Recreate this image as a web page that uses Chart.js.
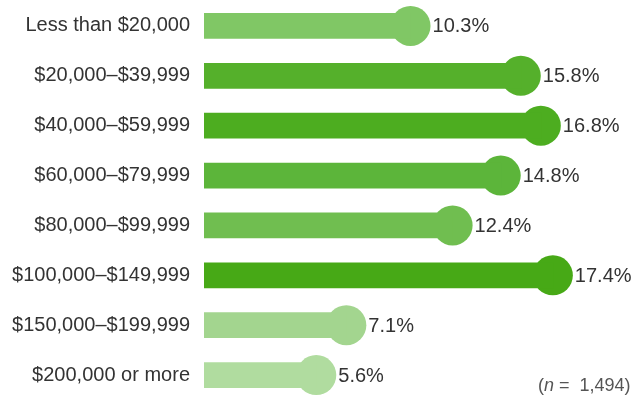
<!DOCTYPE html>
<html>
<head>
<meta charset="utf-8">
<script src="https://cdn.jsdelivr.net/npm/chart.js@4.4.1/dist/chart.umd.min.js"></script>
<style>
  body { margin: 0; background: #fff; }
  #wrap { position: relative; width: 631px; height: 400px; }
  #note {
    position: absolute; left: 538px; top: 375px;
    font: 18px 'Liberation Sans', Arial, sans-serif;
    color: #555; white-space: pre;
  }
</style>
</head>
<body>
<div id="wrap">
  <canvas id="incomeChart"></canvas>
  <div id="note">(<i>n</i> =  1,494)</div>
</div>
<script>
// Household income bands and share of respondents (%)
const incomeBands = [
  'Less than $20,000',
  '$20,000–$39,999',
  '$40,000–$59,999',
  '$60,000–$79,999',
  '$80,000–$99,999',
  '$100,000–$149,999',
  '$150,000–$199,999',
  '$200,000 or more'
];
const shares = [10.3, 15.8, 16.8, 14.8, 12.4, 17.4, 7.1, 5.6];
const barColors = [
  '#80c765', '#55b02b', '#4dad20', '#5cb53a',
  '#70be50', '#47a916', '#a3d58f', '#b0dc9f'
];

const fontFamily = '"Liberation Sans", Arial, sans-serif';

// draw the percentage next to each lollipop head
const valueLabels = {
  id: 'valueLabels',
  afterDatasetsDraw(chart) {
    const ctx = chart.ctx;
    const meta = chart.getDatasetMeta(1);
    ctx.save();
    ctx.font = '20px ' + fontFamily;
    ctx.fillStyle = '#333';
    ctx.textBaseline = 'middle';
    meta.data.forEach((pt, i) => {
      ctx.fillText(shares[i].toFixed(1) + '%', pt.x + 22, pt.y + 1);
    });
    ctx.restore();
  }
};

const ctx = document.getElementById('incomeChart').getContext('2d');
new Chart(ctx, {
  type: 'bar',
  data: {
    labels: incomeBands,
    datasets: [
      {
        data: shares,
        backgroundColor: barColors,
        barThickness: 25,
        borderWidth: 0
      },
      {
        type: 'line',
        indexAxis: 'y',
        data: shares,
        showLine: false,
        pointRadius: 20,
        pointHoverRadius: 20,
        pointBorderWidth: 0,
        pointBackgroundColor: barColors,
        pointBorderColor: barColors,
        clip: false
      }
    ]
  },
  plugins: [valueLabels],
  options: {
    indexAxis: 'y',
    responsive: true,
    maintainAspectRatio: false,
    animation: false,
    layout: {
      autoPadding: false,
      padding: { top: 1, right: 26, bottom: 0, left: 0 }
    },
    plugins: {
      legend: { display: false },
      tooltip: { enabled: false }
    },
    scales: {
      x: {
        type: 'linear',
        min: 0,
        max: 20,
        display: false
      },
      y: {
        grid: { display: false, drawTicks: false },
        border: { display: false },
        ticks: {
          padding: 14,
          color: '#333',
          font: { size: 20, family: fontFamily }
        },
        afterFit(scale) {
          scale.width = 204;
          scale.paddingTop = 0;
          scale.paddingBottom = 0;
        }
      }
    }
  }
});
</script>
</body>
</html>
